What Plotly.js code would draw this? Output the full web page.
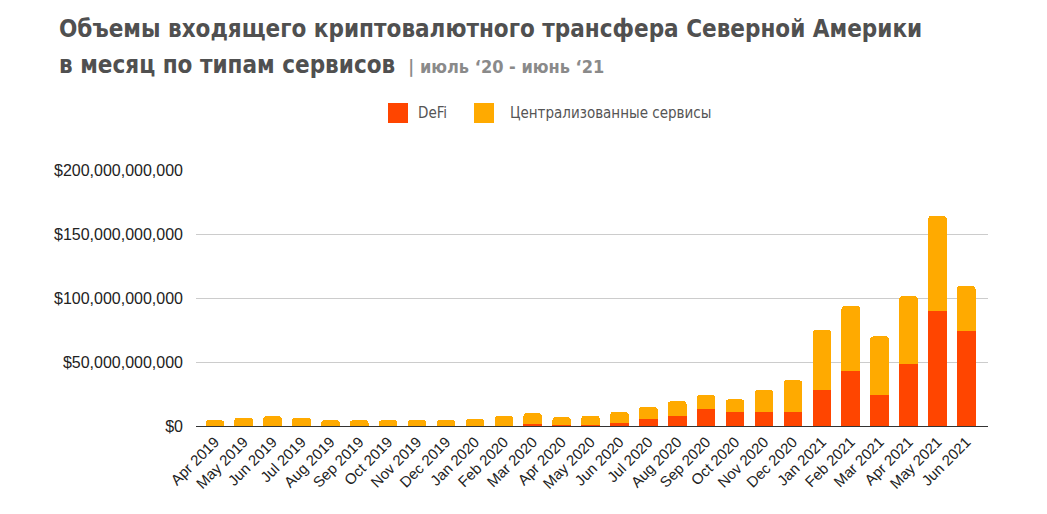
<!DOCTYPE html>
<html>
<head>
<meta charset="utf-8">
<script src="https://cdn.plot.ly/plotly-3.0.1.min.js"></script>
<style>html,body{margin:0;padding:0;background:#fff;}#chart{width:1047px;height:514px;}</style>
</head>
<body>
<div id="chart"></div>
<script>
const months = ["Apr 2019","May 2019","Jun 2019","Jul 2019","Aug 2019","Sep 2019","Oct 2019","Nov 2019","Dec 2019",
  "Jan 2020","Feb 2020","Mar 2020","Apr 2020","May 2020","Jun 2020","Jul 2020","Aug 2020","Sep 2020","Oct 2020","Nov 2020","Dec 2020",
  "Jan 2021","Feb 2021","Mar 2021","Apr 2021","May 2021","Jun 2021"];
// billions USD
const defiB = [0.1,0.1,0.1,0.1,0.1,0.1,0.1,0.1,0.1,
  0.2,0.3,1.8,0.4,0.5,2.6,5.5,7.8,13.0,10.9,10.9,10.9,
  28.1,43.0,24.5,48.7,89.8,74.5];
const totalB = [4.5,6.6,7.6,6.6,4.5,4.5,4.5,4.5,4.5,
  5.5,7.8,9.9,6.8,7.8,10.9,14.8,19.3,24.2,20.8,28.1,35.7,
  75.0,93.8,70.0,101.3,164.0,109.4];
const centralB = totalB.map((t,i)=>+(t-defiB[i]).toFixed(2));
const defi = defiB.map(v=>v*1e9);
const central = centralB.map(v=>v*1e9);
const seriesNames = ["DeFi","Централизованные сервисы"];
const colors = ["#FF4500","#FFAA00"];
const titleLine1 = "Объемы входящего криптовалютного трансфера Северной Америки";
const titleLine2 = "в месяц по типам сервисов";
const subtitle = "| июль ‘20 - июнь ‘21";

const W=1047,H=514,L=196,R=59,T=170,B=88;
const pw=W-L-R, ph=H-T-B;
const px=x=>(x-L)/pw, py=y=>(H-B-y)/ph;
const titleFont="DejaVu Sans Condensed, Liberation Sans Narrow, sans-serif";

const traces=[
  {type:"bar",name:seriesNames[0],x:months,y:defi,marker:{color:colors[0]},hoverinfo:"x+y"},
  {type:"bar",name:seriesNames[1],x:months,y:central,marker:{color:colors[1]},hoverinfo:"x+y"}
];

const layout={
  width:W,height:H,
  margin:{l:L,r:R,t:T,b:B,pad:0},
  paper_bgcolor:"#fff",plot_bgcolor:"#fff",
  barmode:"stack",bargap:0.36,barcornerradius:3,
  showlegend:false,
  xaxis:{
    type:"category",range:[-0.65,26.75],
    tickangle:-45,
    tickfont:{family:"Liberation Sans, Arial, sans-serif",size:15,color:"#222"},
    showgrid:false,showline:true,linecolor:"#333",linewidth:1.3,
    ticks:"",zeroline:false
  },
  yaxis:{
    range:[0,200e9],
    tickvals:[0,50e9,100e9,150e9,200e9],
    ticktext:["$0","$50,000,000,000","$100,000,000,000","$150,000,000,000","$200,000,000,000"],
    tickfont:{family:"Liberation Sans, Arial, sans-serif",size:16,color:"#222"},
    showgrid:true,gridcolor:"#cccccc",gridwidth:1,
    zeroline:false,showline:false,ticks:"",ticklabelstandoff:12
  },
  shapes:[
    {type:"rect",xref:"paper",yref:"paper",x0:px(388),x1:px(408),y0:py(123),y1:py(103),fillcolor:colors[0],line:{width:0}},
    {type:"rect",xref:"paper",yref:"paper",x0:px(474),x1:px(494),y0:py(123),y1:py(103),fillcolor:colors[1],line:{width:0}}
  ],
  annotations:[
    {xref:"paper",yref:"paper",x:px(57),y:py(29),xanchor:"left",yanchor:"middle",showarrow:false,
     text:titleLine1,font:{family:titleFont,size:24,color:"#505050",weight:"bold"}},
    {xref:"paper",yref:"paper",x:px(57),y:py(65),xanchor:"left",yanchor:"middle",showarrow:false,
     text:titleLine2+" <span style='font-size:18px;color:#8a8a8a'> "+subtitle+"</span>",font:{family:titleFont,size:24,color:"#505050",weight:"bold"}},
    {xref:"paper",yref:"paper",x:px(416),y:py(113),xanchor:"left",yanchor:"middle",showarrow:false,
     text:seriesNames[0],font:{family:titleFont,size:15,color:"#555"}},
    {xref:"paper",yref:"paper",x:px(508),y:py(113),xanchor:"left",yanchor:"middle",showarrow:false,
     text:seriesNames[1],font:{family:titleFont,size:15,color:"#555"}}
  ]
};
Plotly.newPlot("chart",traces,layout,{displayModeBar:false,staticPlot:true});
</script>
</body>
</html>
